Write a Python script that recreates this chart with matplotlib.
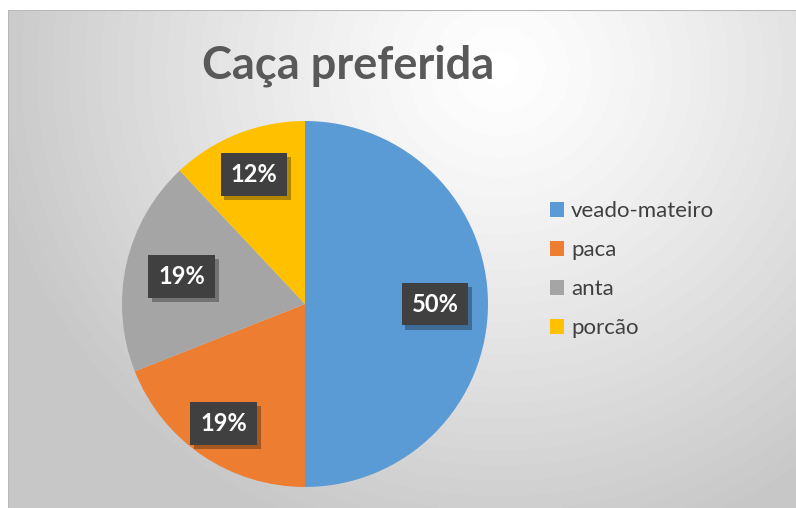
import numpy as np
import matplotlib
matplotlib.use("Agg")
import matplotlib.pyplot as plt
import matplotlib.patheffects as pe
from matplotlib.patches import Patch

# data
categories = ["veado-mateiro", "paca", "anta", "porcão"]
values = [50, 19, 19, 12]
colors = ["#5B9BD5", "#ED7D31", "#A5A5A5", "#FFC000"]
title = "Caça preferida"

W, H = 796, 508
plt.rcParams["font.family"] = ["Lato", "DejaVu Sans"]

fig = plt.figure(figsize=(W / 100, H / 100), dpi=100)
fig.patch.set_facecolor("white")

# ── chart area background (radial grey gradient) ──
bx0, by0 = 8, 10
bg = fig.add_axes([bx0 / W, 0, (W - bx0) / W, (H - by0) / H])
xs = np.arange(bx0, W)
ys = np.arange(by0, H)
X, Y = np.meshgrid(xs, ys)
d = np.hypot(X - 500, (Y - 70) * 1.05)
shade = 1.0 - 0.22 * np.clip(d / 520, 0, 1) ** 1.2
bg.imshow(shade, cmap="gray", vmin=0, vmax=1, aspect="auto",
          extent=[0, 1, 0, 1], origin="upper")
bg.plot([0, 1], [1, 1], color="#b8b8b8", lw=1.5, transform=bg.transAxes)
bg.plot([0, 0], [0, 1], color="#b8b8b8", lw=1.5, transform=bg.transAxes)
bg.set_xlim(0, 1)
bg.set_ylim(0, 1)
bg.axis("off")

# ── pie ──
cx, cy, r = 305, 304, 183
ax = fig.add_axes([(cx - r) / W, (H - cy - r) / H, 2 * r / W, 2 * r / H])
wedges, _ = ax.pie(values, colors=colors, startangle=90, counterclock=False,
                   radius=1.0, wedgeprops=dict(linewidth=0))
ax.set_xlim(-1, 1)
ax.set_ylim(-1, 1)
ax.set_aspect("equal")
ax.axis("off")

# percentage labels in dark boxes with a soft shadow
dists = [0.71, 0.79, 0.69, 0.76]
total = sum(values)
for w, v, dist in zip(wedges, values, dists):
    ang = np.deg2rad((w.theta1 + w.theta2) / 2)
    x, y = dist * np.cos(ang), dist * np.sin(ang)
    lab = f"{round(100 * v / total)}%"
    t = ax.text(x, y, lab, ha="center", va="center", fontsize=17, fontweight="bold",
                color="white",
                bbox=dict(boxstyle="square,pad=0.42", fc="#404040", ec="none"))
    t.get_bbox_patch().set_path_effects(
        [pe.withSimplePatchShadow(offset=(2.5, -3), shadow_rgbFace="black", alpha=0.3)])

# ── title ──
fig.text(348 / W, 1 - 66 / H, title, ha="center", va="center",
         fontsize=32.5, fontweight="bold", color="#595959")

# ── legend ──
handles = [Patch(facecolor=c, edgecolor="none") for c in colors]
leg = fig.legend(handles, categories, loc="upper left",
                 bbox_to_anchor=(530 / W, 1 - 181 / H), frameon=False,
                 fontsize=16, handlelength=0.65, handleheight=0.65,
                 handletextpad=0.3, labelspacing=0.86)
for t in leg.get_texts():
    t.set_color("#404040")

fig.savefig("out.png", dpi=100)
